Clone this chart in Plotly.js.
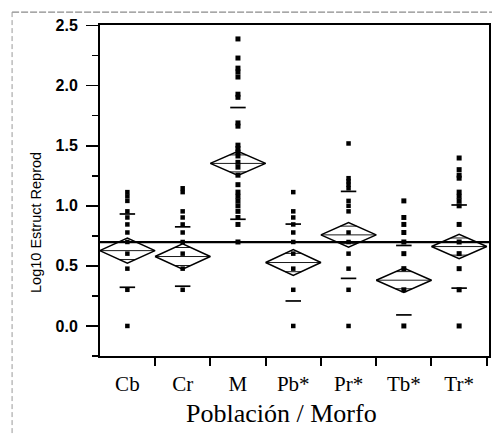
<!DOCTYPE html>
<html>
<head>
<meta charset="utf-8">
<script src="https://cdn.plot.ly/plotly-3.0.1.min.js"></script>
<style>html,body{margin:0;padding:0;background:#fff;}#chart{width:492px;height:436px;}</style>
</head>
<body>
<div id="chart"></div>
<script>
// ---- data ----
const categories = ['Cb', 'Cr', 'M', 'Pb*', 'Pr*', 'Tb*', 'Tr*'];
const ptsCb  = [1.114, 1.079, 1.041, 0.954, 0.903, 0.845, 0.778, 0.699, 0.602, 0.477, 0.301, 0];
const ptsCr  = [1.146, 1.114, 0.954, 0.903, 0.845, 0.778, 0.699, 0.602, 0.477, 0.301];
const ptsM   = [2.389, 2.23, 2.146, 2.114, 2.072, 1.929, 1.903, 1.69, 1.663, 1.505, 1.477, 1.447, 1.415,
                1.362, 1.322, 1.255, 1.176, 1.114, 1.079, 1.041, 1.0, 0.954, 0.903, 0.845, 0.699];
const ptsPb  = [1.114, 0.954, 0.903, 0.845, 0.778, 0.699, 0.602, 0.477, 0.301, 0];
const ptsPr  = [1.519, 1.23, 1.204, 1.176, 1.146, 1.041, 1.0, 0.954, 0.778, 0.699, 0.602, 0.477, 0.301, 0];
const ptsTb  = [1.041, 0.903, 0.845, 0.778, 0.699, 0.602, 0.477, 0.301, 0];
const ptsTr  = [1.398, 1.301, 1.255, 1.23, 1.114, 1.079, 1.041, 1.0, 0.845, 0.699, 0.602, 0.477, 0.301, 0];
const groupPoints = [ptsCb, ptsCr, ptsM, ptsPb, ptsPr, ptsTb, ptsTr];
const groupMeans = [0.627, 0.578, 1.353, 0.528, 0.758, 0.381, 0.661];
const groupCI    = [0.105, 0.106, 0.100, 0.108, 0.103, 0.101, 0.101];
const groupSD    = [0.305, 0.247, 0.465, 0.320, 0.362, 0.289, 0.346];
const grandMean  = 0.697;
const yTickVals  = [0, 0.5, 1.0, 1.5, 2.0, 2.5];

// ---- build traces ----
const markerSizes = [4.5, 4.5, 5, 4.5, 4.5, 5, 5];
const traces = [];
groupPoints.forEach((pts, i) => {
  traces.push({
    type: 'scatter', mode: 'markers', cliponaxis: false,
    x: pts.map(() => i + 0.5), y: pts,
    marker: {symbol: 'square', size: markerSizes[i], color: '#000', line: {width: 0}},
    hoverinfo: 'y', showlegend: false
  });
});

// means diamonds, mean lines, overlap marks, std-dev lines
const dx = [], dy = [];
const mx = [], my = [];
const ox = [], oy = [];
const sx = [], sy = [];
const k = Math.SQRT1_2;
groupMeans.forEach((m, i) => {
  const c = groupCI[i], x0 = i, x1 = i + 1, xc = i + 0.5;
  dx.push(x0, xc, x1, xc, x0, null); dy.push(m, m + c, m, m - c, m, null);
  mx.push(x0, x1, null); my.push(m, m, null);
  const hw = 0.5 * (1 - k);
  ox.push(xc - hw, xc + hw, null, xc - hw, xc + hw, null);
  oy.push(m + c * k, m + c * k, null, m - c * k, m - c * k, null);
  const s = groupSD[i], sw = 0.14;
  sx.push(xc - sw, xc + sw, null, xc - sw, xc + sw, null);
  sy.push(m + s, m + s, null, m - s, m - s, null);
});
traces.push({type: 'scatter', mode: 'lines', x: dx, y: dy, line: {color: '#000', width: 1.5}, hoverinfo: 'skip', showlegend: false});
traces.push({type: 'scatter', mode: 'lines', x: mx, y: my, line: {color: '#000', width: 0.9}, hoverinfo: 'skip', showlegend: false});
traces.push({type: 'scatter', mode: 'lines', x: ox, y: oy, line: {color: '#000', width: 0.9}, hoverinfo: 'skip', showlegend: false});
traces.push({type: 'scatter', mode: 'lines', x: sx, y: sy, line: {color: '#000', width: 1.7}, hoverinfo: 'skip', showlegend: false});

const layout = {
  width: 492, height: 436,
  margin: {l: 100, r: 3, t: 25, b: 80},
  paper_bgcolor: '#fff', plot_bgcolor: '#fff',
  showlegend: false,
  xaxis: {
    range: [0.005, 7.04],
    tickvals: categories.map((c, i) => i + 0.5),
    ticktext: categories,
    ticks: '',
    tickfont: {family: 'Liberation Serif, Times New Roman, serif', size: 21, color: '#000'},
    ticklabelstandoff: 8,
    minor: {tick0: 0, dtick: 1, ticks: 'outside', ticklen: 8, tickwidth: 2, tickcolor: '#000', showgrid: false},
    showline: true, mirror: true, linecolor: '#000', linewidth: 2,
    showgrid: false, zeroline: false, fixedrange: true
  },
  yaxis: {
    range: [-0.25, 2.505],
    tickvals: yTickVals,
    tickformat: '.1f',
    ticks: 'outside', ticklen: 12, tickwidth: 1.5, tickcolor: '#000',
    minor: {dtick: 0.25, tick0: 0, ticks: 'outside', ticklen: 6, tickwidth: 1.5, tickcolor: '#000', showgrid: false},
    tickfont: {family: 'Liberation Sans, Arial, sans-serif', size: 16, color: '#000', weight: 'bold'},
    ticklabelstandoff: 5,
    showline: true, mirror: true, linecolor: '#000', linewidth: 2,
    showgrid: false, zeroline: false, fixedrange: true
  },
  shapes: [
    {type: 'line', xref: 'paper', yref: 'y', x0: 0, x1: 1, y0: grandMean, y1: grandMean, line: {color: '#000', width: 2.2}},
    {type: 'line', xref: 'paper', yref: 'paper', x0: -0.226, x1: 1.01, y0: 1.039, y1: 1.039, line: {color: '#8a8a8a', width: 1.2, dash: '7px,2px'}},
    {type: 'line', xref: 'paper', yref: 'paper', x0: -0.226, x1: -0.226, y0: 1.039, y1: -0.245, line: {color: '#9a9a9a', width: 1, dash: '5px,3px'}}
  ],
  annotations: [
    {text: 'Log10 Estruct Reprod', xref: 'paper', yref: 'paper', x: -0.1645, y: 0.402,
     xanchor: 'center', yanchor: 'middle', textangle: -90, showarrow: false,
     font: {family: 'Liberation Sans, Arial, sans-serif', size: 14.5, color: '#000'}},
    {text: 'Población / Morfo', xref: 'paper', yref: 'paper', x: 0.4653, y: -0.175,
     xanchor: 'center', yanchor: 'middle', showarrow: false,
     font: {family: 'Liberation Serif, Times New Roman, serif', size: 26, color: '#000'}}
  ]
};

Plotly.newPlot('chart', traces, layout, {displayModeBar: false, staticPlot: true});
</script>
</body>
</html>
